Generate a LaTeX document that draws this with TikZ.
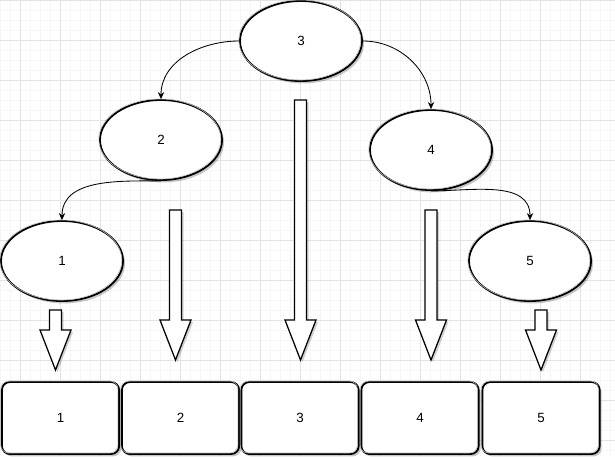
\documentclass[tikz,border=0pt]{standalone}
\usepackage{fontspec}
\setmainfont{Liberation Sans}
\usepackage{tikz}
\usetikzlibrary{shapes.geometric, arrows.meta, shadows}

\begin{document}
\begin{tikzpicture}[
  x=0.025cm, y=-0.025cm,
  every node/.style={font=\fontsize{9.5}{11}\selectfont},
  gridminor/.style={draw=gray!7, line width=0.5pt},
  gridmajor/.style={draw=gray!22, line width=0.5pt},
  sketchy/.style={drop shadow={shadow xshift=0.05cm, shadow yshift=-0.06cm,
                  fill=black, opacity=0.22},
                  postaction={draw=gray!55, line width=0.4pt,
                  transform canvas={shift={(-0.03cm,0.025cm)}}}},
  oval/.style={ellipse, draw=black, fill=white, line width=1.3pt, sketchy,
               minimum width=3.05cm, minimum height=2cm, inner sep=0pt},
  cell/.style={rectangle, draw=black, fill=white, rounded corners=0.2cm,
               line width=1.3pt, sketchy, minimum width=2.93cm,
               minimum height=1.8cm, inner sep=0pt},
  blockarr/.style={draw=black, fill=white, line width=0.9pt, line join=miter,
                   drop shadow={shadow xshift=0.05cm, shadow yshift=-0.05cm,
                   fill=black, opacity=0.18}},
  curv/.style={draw=black, line width=0.6pt, -{Stealth[length=5pt, width=4.5pt]}}
]
  \useasboundingbox (0,0) rectangle (615,456);
  \fill[white] (0,0) rectangle (615,456);

  % grid
  \foreach \i in {0,10,...,610} \draw[gridminor] (\i,0) -- (\i,456);
  \foreach \j in {0,10,...,450} \draw[gridminor] (0,\j) -- (615,\j);
  \foreach \i in {20,60,...,600} \draw[gridmajor] (\i,0) -- (\i,456);
  \foreach \j in {0,40,...,440} \draw[gridmajor] (0,\j) -- (615,\j);

  % tree
  \node[oval] (e3) at (301,41) {3};
  \node[oval] (e2) at (161,140) {2};
  \node[oval] (e4) at (431,150) {4};
  \node[oval] (e1) at (62,261) {1};
  \node[oval] (e5) at (530,261) {5};

  \draw[curv] (e3.west) to[out=180, in=90] (e2.north);
  \draw[curv] (e3.east) to[out=0, in=90] (e4.north);
  \draw[curv] (e2.south) to[out=180, in=90] (e1.north);
  \draw[curv] (e4.south) to[out=0, in=90] (e5.north);

  % block arrows
  \foreach \x/\t/\h in {55.5/310/330, 175.5/210/320, 300.5/100/320,
                        431/210/320, 541/310/330}
    \draw[blockarr] ({\x-6},\t) -- ({\x+6},\t) -- ({\x+6},\h)
      -- ({\x+15.5},\h) -- (\x,{\h+40}) -- ({\x-15.5},\h)
      -- ({\x-6},\h) -- cycle;

  % array
  \node[cell] (b1) at (60.5,418) {1};
  \node[cell] (b2) at (180.5,418) {2};
  \node[cell] (b3) at (300,418) {3};
  \node[cell] (b4) at (420,418) {4};
  \node[cell] (b5) at (541,418) {5};
\end{tikzpicture}
\end{document}
